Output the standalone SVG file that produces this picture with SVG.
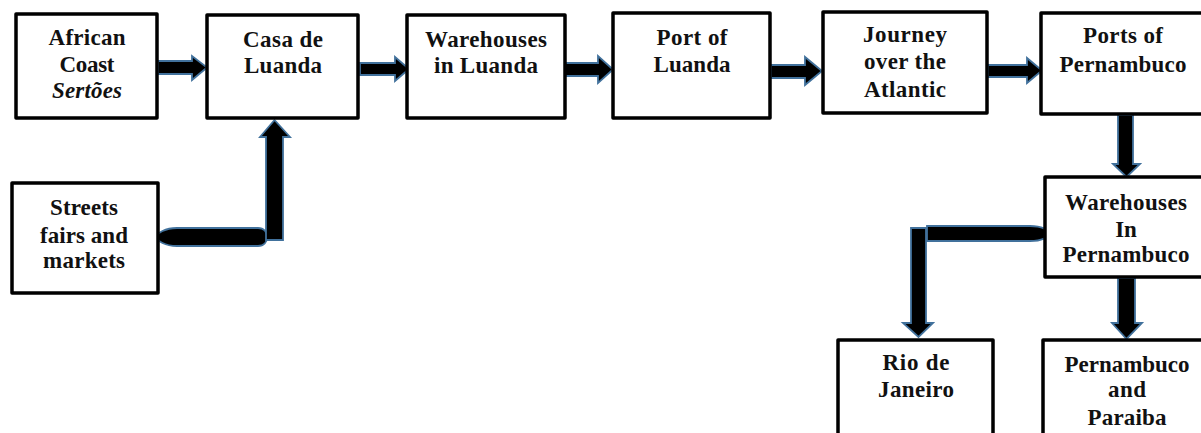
<svg xmlns="http://www.w3.org/2000/svg" width="1201" height="433" viewBox="0 0 1201 433">
<style>
.box{fill:#fff;stroke:#000;stroke-width:3.5;stroke-linejoin:round}
.arr{fill:#000;stroke:#41719c;stroke-width:1.8;stroke-linejoin:miter}
text{font-family:"Liberation Serif","Times New Roman",serif;font-weight:bold;font-size:23px;fill:#111;text-anchor:middle}
.it{font-style:italic}
</style>
<rect width="1201" height="433" fill="#fff"/>
<g id="connectors">
<polygon class="arr" points="158,61 192,61 192,56 207,67.5 192,80 192,74 158,74"/>
<polygon class="arr" points="360,63 395,63 395,57 409,69 395,81 395,75 360,75"/>
<polygon class="arr" points="565,63 598,63 598,56 613,69.5 598,83 598,76 565,76"/>
<polygon class="arr" points="771,65 805,65 805,57 822,71 805,85 805,78 771,78"/>
<polygon class="arr" points="988,65 1027,65 1027,58 1042,70.5 1027,83 1027,77 988,77"/>
<polygon class="arr" points="1118,115 1133,115 1133,164 1140,164 1126.5,177 1113,164 1118,164"/>
<polygon class="arr" points="1118,278 1135,278 1135,323 1142,323 1126.5,339 1112,323 1118,323"/>
<path class="arr" d="M927,226 H1030 C1042,226 1049,230 1049,233.5 C1049,237 1042,241 1030,241 H927 Z"/>
<polygon class="arr" points="911,228 926,228 926,323 933,323 918.5,337 903,323 911,323"/>
<path class="arr" d="M177,228 H258 C264,228 267,232 267,237 C267,242 264,246 258,246 H177 C165,246 157,241 157,237 C157,233 165,228 177,228 Z"/>
<polygon class="arr" points="266,240 283,240 283,137 290,137 274.5,120 260,137 266,137"/>
</g>
<g id="african-coast">
<rect class="box" x="16" y="14" width="141" height="104"/>
<text x="87" y="45" textLength="77" lengthAdjust="spacing">African</text>
<text x="87" y="72" textLength="55" lengthAdjust="spacing">Coast</text>
<text x="87" y="98" class="it" textLength="70" lengthAdjust="spacing">Sertões</text>
</g>
<g id="casa-de-luanda">
<rect class="box" x="207" y="15" width="151" height="103"/>
<text x="283" y="47" textLength="80" lengthAdjust="spacing">Casa de</text>
<text x="283" y="73" textLength="78" lengthAdjust="spacing">Luanda</text>
</g>
<g id="warehouses-luanda">
<rect class="box" x="407" y="15" width="158" height="103"/>
<text x="486" y="47" textLength="122" lengthAdjust="spacing">Warehouses</text>
<text x="486" y="73" textLength="104" lengthAdjust="spacing">in Luanda</text>
</g>
<g id="port-of-luanda">
<rect class="box" x="613" y="13" width="157" height="105"/>
<text x="692" y="45" textLength="71" lengthAdjust="spacing">Port of</text>
<text x="692" y="72" textLength="77" lengthAdjust="spacing">Luanda</text>
</g>
<g id="journey">
<rect class="box" x="823" y="12" width="164" height="101"/>
<text x="905" y="42" textLength="84" lengthAdjust="spacing">Journey</text>
<text x="905" y="69" textLength="82" lengthAdjust="spacing">over the</text>
<text x="905" y="97" textLength="82" lengthAdjust="spacing">Atlantic</text>
</g>
<g id="ports-pernambuco">
<rect class="box" x="1041" y="13" width="172" height="101"/>
<text x="1123" y="43" textLength="80" lengthAdjust="spacing">Ports of</text>
<text x="1123" y="72" textLength="127" lengthAdjust="spacing">Pernambuco</text>
</g>
<g id="warehouses-pernambuco">
<rect class="box" x="1045" y="177" width="170" height="100"/>
<text x="1126" y="210" textLength="122" lengthAdjust="spacing">Warehouses</text>
<text x="1126" y="237">In</text>
<text x="1126" y="262" textLength="127" lengthAdjust="spacing">Pernambuco</text>
</g>
<g id="rio-de-janeiro">
<rect class="box" x="838" y="340" width="155" height="110"/>
<text x="916" y="370" textLength="67" lengthAdjust="spacing">Rio de</text>
<text x="916" y="397" textLength="76" lengthAdjust="spacing">Janeiro</text>
</g>
<g id="pernambuco-paraiba">
<rect class="box" x="1043" y="340" width="172" height="110"/>
<text x="1127" y="372" textLength="125" lengthAdjust="spacing">Pernambuco</text>
<text x="1127" y="397" textLength="38" lengthAdjust="spacing">and</text>
<text x="1127" y="425" textLength="79" lengthAdjust="spacing">Paraiba</text>
</g>
<g id="streets-fairs-markets">
<rect class="box" x="12" y="183" width="146" height="110"/>
<text x="84" y="215" textLength="68" lengthAdjust="spacing">Streets</text>
<text x="84" y="243" textLength="88" lengthAdjust="spacing">fairs and</text>
<text x="84" y="268" textLength="82" lengthAdjust="spacing">markets</text>
</g>
</svg>
